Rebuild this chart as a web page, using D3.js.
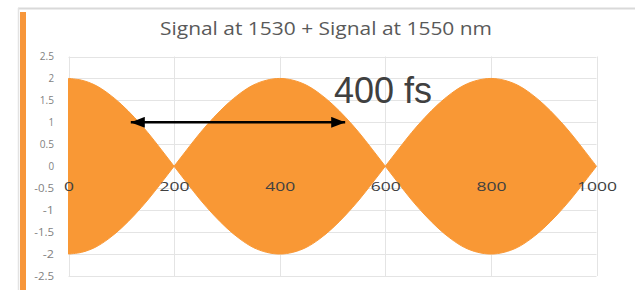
<!DOCTYPE html>
<html>
<head>
<meta charset="utf-8">
<script src="https://cdn.jsdelivr.net/npm/d3@7"></script>
<style>
html,body{margin:0;padding:0;background:#fff;}
svg{display:block;}
</style>
</head>
<body>
<svg id="chart" width="635" height="296"></svg>
<script>
// Data: beat envelope (signed amplitude) vs time (fs)
const times = [0,25,50,75,100,125,150,175,200,225,250,275,300,325,350,375,400,
  425,450,475,500,525,550,575,600,625,650,675,700,725,750,775,800,
  825,850,875,900,925,950,975,1000];
const amplitude = [2,1.96,1.85,1.66,1.41,1.11,0.77,0.39,0,-0.39,-0.77,-1.11,-1.41,-1.66,-1.85,-1.96,-2,
  -1.96,-1.85,-1.66,-1.41,-1.11,-0.77,-0.39,0,0.39,0.77,1.11,1.41,1.66,1.85,1.96,2,
  1.96,1.85,1.66,1.41,1.11,0.77,0.39,0];
const xTicks = [0,200,400,600,800,1000];
const yTicks = [2.5,2,1.5,1,0.5,0,-0.5,-1,-1.5,-2,-2.5];
const title = "Signal at 1530 + Signal at 1550 nm";
const annotation = "400 fs";
const arrowSpan = [118, 524];   // fs, at amplitude 1
const arrowLevel = 1;

const svg = d3.select("#chart");
const FONT = "'Open Sans', 'DejaVu Sans', sans-serif";

// outer frame
svg.append("line").attr("x1",18).attr("x2",635).attr("y1",8.5).attr("y2",8.5)
  .attr("stroke","#d9d9d9").attr("stroke-width",2);
svg.append("line").attr("x1",18.5).attr("x2",18.5).attr("y1",8).attr("y2",290)
  .attr("stroke","#e3e3e3").attr("stroke-width",1.5);
svg.append("rect").attr("x",20).attr("y",12).attr("width",6).attr("height",278)
  .attr("fill","#f7963a");

const x = d3.scaleLinear().domain([0,1000]).range([68.5,596.5]);
const y = d3.scaleLinear().domain([-2.5,2.5]).range([276,56.5]);

// gridlines
const g = svg.append("g");
g.selectAll("line.h").data(yTicks).enter().append("line")
  .attr("x1",x(0)).attr("x2",x(1000))
  .attr("y1",d=>Math.round(y(d))+0.5).attr("y2",d=>Math.round(y(d))+0.5)
  .attr("stroke","#e4e4e4").attr("stroke-width",1);
g.selectAll("line.v").data(xTicks).enter().append("line")
  .attr("y1",y(2.5)).attr("y2",y(-2.5))
  .attr("x1",d=>Math.round(x(d))+0.5).attr("x2",d=>Math.round(x(d))+0.5)
  .attr("stroke","#e4e4e4").attr("stroke-width",1);

// filled beat signal
const pts = times.map((t,i)=>({t, a:amplitude[i]}));
const area = d3.area()
  .x(d=>x(d.t)).y0(d=>y(-d.a)).y1(d=>y(d.a))
  .curve(d3.curveCatmullRom);
svg.append("path").datum(pts).attr("d",area)
  .attr("fill","#f99835").attr("fill-rule","nonzero")
  .attr("stroke","#f99835").attr("stroke-width",1);

// y axis labels
const yAxis = d3.axisLeft(y).tickValues(yTicks).tickSize(0).tickPadding(0)
  .tickFormat(d=>String(d));
const ya = svg.append("g").attr("transform","translate(54,0)").call(yAxis);
ya.select(".domain").remove();
ya.selectAll("text").attr("font-family",FONT)
  .attr("font-size",10).attr("fill","#7f7f7f")
  .attr("textLength",d=>String(d).replace(".","").length*5.6 + (String(d).includes(".")?3:0))
  .attr("lengthAdjust","spacingAndGlyphs");

// x axis labels (placed near y=-0.5)
const xAxis = d3.axisBottom(x).tickValues(xTicks).tickSize(0).tickPadding(0)
  .tickFormat(d=>String(d));
const xa = svg.append("g").attr("transform","translate(0,180)").call(xAxis);
xa.select(".domain").remove();
xa.selectAll("text").attr("font-family",FONT)
  .attr("font-size",13.5).attr("fill","#404040").attr("dy","0").attr("y",11)
  .attr("textLength",d=>String(d).length*10)
  .attr("lengthAdjust","spacingAndGlyphs");

// title
svg.append("text").attr("x",160).attr("y",35)
  .attr("font-family",FONT)
  .attr("font-size",17.5).attr("fill","#595959")
  .attr("textLength",332).attr("lengthAdjust","spacingAndGlyphs").text(title);

// annotation
svg.append("text").attr("x",334).attr("y",103)
  .attr("font-family","'Liberation Sans', Arial, sans-serif")
  .attr("font-size",36).attr("fill","#404040").text(annotation);

// double arrow
const defs = svg.append("defs");
defs.append("marker").attr("id","ah").attr("viewBox","0 0 14 11")
  .attr("refX",14).attr("refY",5.5).attr("markerWidth",14).attr("markerHeight",11)
  .attr("markerUnits","userSpaceOnUse").attr("orient","auto-start-reverse")
  .append("path").attr("d","M0,0 L14,5.5 L0,11 Z").attr("fill","#000");
svg.append("line")
  .attr("x1",x(arrowSpan[0])).attr("x2",x(arrowSpan[1]))
  .attr("y1",y(arrowLevel)).attr("y2",y(arrowLevel))
  .attr("stroke","#000").attr("stroke-width",2.5)
  .attr("marker-start","url(#ah)").attr("marker-end","url(#ah)");
</script>
</body>
</html>
